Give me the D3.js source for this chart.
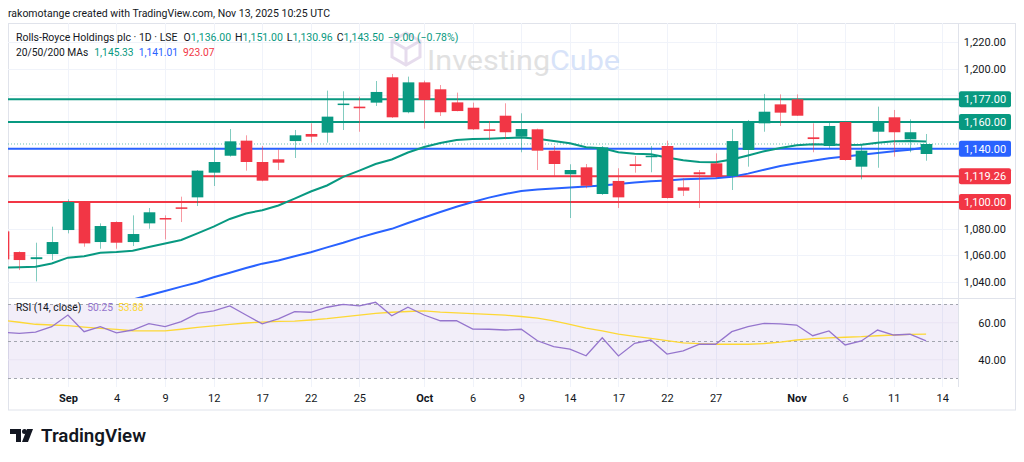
<!DOCTYPE html>
<html><head><meta charset="utf-8">
<script src="https://cdn.jsdelivr.net/npm/d3@7"></script>
<style>
body{margin:0;background:#fff;}
svg{display:block;font-family:Roboto,"Noto Sans",sans-serif;}
</style>
</head><body>
<svg id="c" width="1024" height="462"></svg>
<script>
// ---------- DATA ----------
const dates = ["2025-08-26","2025-08-27","2025-08-28","2025-08-29",
 "2025-09-01","2025-09-02","2025-09-03","2025-09-04","2025-09-05","2025-09-08","2025-09-09","2025-09-10","2025-09-11","2025-09-12",
 "2025-09-15","2025-09-16","2025-09-17","2025-09-18","2025-09-19","2025-09-22","2025-09-23","2025-09-24","2025-09-25","2025-09-26",
 "2025-09-29","2025-09-30","2025-10-01","2025-10-02","2025-10-03","2025-10-06","2025-10-07","2025-10-08","2025-10-09","2025-10-10",
 "2025-10-13","2025-10-14","2025-10-15","2025-10-16","2025-10-17","2025-10-20","2025-10-21","2025-10-22","2025-10-23","2025-10-24",
 "2025-10-27","2025-10-28","2025-10-29","2025-10-30","2025-10-31","2025-11-03","2025-11-04","2025-11-05","2025-11-06","2025-11-07",
 "2025-11-10","2025-11-11","2025-11-12","2025-11-13"];
const opens  = [1078,1062.5,1057.2,1061, 1079,1100,1070,1085,1070,1084,1088,1096,1103.5,1122,
 1134.7,1146,1130,1132,1145.7,1151,1152,1173,1171.5,1174.5, 1193.5,1167.3,1189.7,1184.5,1174.7,1170.7,1154.5,1164.7,1149,1154.5,
 1138.5,1120.8,1126,1106,1115.8,1128.3,1133.7,1142,1111,1122.3, 1129,1119.5,1139,1159,1173.2,1177,1148.5,1142,1160,1126.5,
 1152.7,1163.5,1147,1136];
const highs  = [1080,1063,1069.5,1081.5, 1102,1100.5,1084,1085.5,1090,1095.5,1090,1104,1124,1141,
 1154.7,1150,1142,1139.5,1154,1159,1183.5,1183,1179,1190.7, 1196,1194,1191,1187.7,1182,1174.5,1160.7,1174,1166.5,1155,
 1142,1128.3,1128.5,1142,1125.3,1134.5,1142,1146,1117.8,1124, 1136.5,1154.7,1161.5,1181,1180.7,1180.7,1159,1160.2,1160.3,1142.7,
 1171.5,1169,1162,1151];
const lows   = [1055,1049,1040.5,1056.5, 1076.5,1066.5,1065,1065,1067,1080,1072,1085,1097,1112,
 1134,1123.5,1115.5,1124,1133,1144.5,1144.5,1154,1152.7,1172, 1163,1166.5,1155,1164.5,1168,1154,1146.5,1147,1137.3,1124,
 1119.7,1088,1110.3,1105.3,1095.5,1122,1122.3,1102.5,1104.5,1095.5, 1117.8,1109,1126.5,1152.7,1157,1164.5,1137.3,1140.3,1131,1117,
 1125.7,1134,1137.3,1130.96];
const closes = [1057,1056.5,1058.6,1070, 1100,1069,1082,1069.5,1076,1092.3,1087,1095.5,1123.5,1130,
 1145.5,1130,1116,1129.5,1150,1149,1164,1173.8,1170.3,1182.5, 1163.5,1189.7,1176.5,1167.3,1168.2,1154.5,1153.3,1152.3,1154.7,1138.5,
 1128.5,1124,1112.2,1141,1103.5,1127,1134.7,1103,1108.5,1120.8, 1119,1145.7,1159.8,1167.7,1167,1164.7,1147.2,1157,1131.5,1138.5,
 1160.7,1152.3,1152.3,1143.5];
const ma20 = [1050.9,1051.1,1051.5,1053.9, 1058.3,1059.4,1061.9,1062.5,1063.5,1066.3,1068.9,1071.5,1076.5,1081.6,
 1087.3,1091.4,1093.9,1097.4,1102.6,1107.9,1112.4,1118.8,1123.5,1128.5, 1131.9,1137.1,1141.2,1144.2,1146.5,1147.2,1147.5,1147.9,1148.4,1147.5,
 1145.7,1144,1141.1,1140.3,1137.3,1136.1,1135.8,1133.4,1131.3,1130, 1129.8,1131.9,1134.9,1138.1,1140.5,1142.6,1143.3,1143.1,1142.7,1143,
 1144.5,1145.5,1145.7,1145.33];
const ma50 = [1001.1,1004.4,1007.6,1010.8, 1014,1017.3,1020.5,1023.7,1026.9,1030.1,1033.3,1036.6,1039.7,1043.6,
 1047,1050.5,1053.8,1056.2,1059.3,1062.4,1066,1069.5,1073.3,1076.8, 1079.9,1084.3,1088.4,1092.5,1096.5,1100,1103.3,1106,1108.3,1109.4,
 1110.1,1110.9,1111.6,1112.3,1113.5,1114.6,1115.6,1116.1,1117,1117.4, 1117.9,1118.9,1121.3,1124.2,1127,1129,1131,1132.8,1134.1,1135.5,
 1136.8,1138,1139.1,1141.01];
const rsi = [54.9,54.3,54.9,57.9, 64.2,55.2,57.9,54.6,56.1,59.5,57.9,60.6,65.1,66.5,
 69.1,64.2,59.4,62.1,66,65.7,68.4,70,69.1,71.1, 63.8,68.4,64.2,61.1,61.1,56.6,56.5,56.1,56.5,50.3,
 47.1,45.8,42.2,51.9,42.1,48.9,50.7,43.1,44.8,48.4, 48.4,55.2,57.9,59.7,59.4,58.8,53,55.6,48,50.2,
 56.1,53.4,53.8,50.25];
const rsiMa = [61.4,60.3,59.2,58.8, 58.5,57.7,57,56.4,55.7,55.6,55.6,56.5,57.5,58.3,
 59.2,59.9,60.4,60.8,60.9,61.5,62.2,63.2,64.2,65.1, 65.7,66.1,66.4,65.8,65.4,65,64.6,64.1,63.4,62.5,
 61,59.2,57.1,55.6,53.9,52.7,51.6,50.4,49.2,48.7, 48.4,48.4,48.4,48.8,49.6,50.7,51.4,51.9,52.2,52.5,
 53,53.4,53.7,53.88];
const levelPrices = [1177, 1160, 1140, 1119.26, 1100];
const levelLabels = ["1,177.00","1,160.00","1,140.00","1,119.26","1,100.00"];
const levelColors = ["#089981","#089981","#2962ff","#f23645","#f23645"];
const priceTicks = [1040,1060,1080,1100,1120,1140,1160,1180,1200,1220];
const rsiTicks = [40, 60];
const rsiBands = [70, 50, 30];
const xTickDates = ["2025-09-01","2025-09-04","2025-09-09","2025-09-12","2025-09-17","2025-09-22","2025-09-25",
 "2025-10-01","2025-10-06","2025-10-09","2025-10-14","2025-10-17","2025-10-22","2025-10-27",
 "2025-11-03","2025-11-06","2025-11-11","2025-11-14"];
const xTickLabels = ["Sep","4","9","12","17","22","25","Oct","6","9","14","17","22","27","Nov","6","11","14"];
const monthLabels = ["Sep","Oct","Nov"];
const ohlcKeys = ["O","H","L","C"];
const ohlcVals = ["1,136.00","1,151.00","1,130.96","1,143.50"];
const changeText = "−9.00 (−0.78%)";
const maValues = ["1,145.33","1,141.01","923.07"];
const rsiValues = ["50.25","53.88"];
const lastClose = 1143.5;

// ---------- LAYOUT ----------
const L = 8, R = 958, TOP = 23, MID = 298, BOT = 387;
const svg = d3.select("#c");
const axisDates = dates.concat(["2025-11-14"]);
const idx = d => axisDates.indexOf(d);
const x = d3.scaleLinear().domain([0.30, 58.97]).range([L, R]);
const y = d3.scaleLinear().domain([1028.05, 1234.2]).range([MID, TOP]);
const yr = d3.scaleLinear().domain([25.3, 73.4]).range([BOT, MID]);
const step = x(1) - x(0);

const defs = svg.append("defs");
defs.append("clipPath").attr("id","cm").append("rect").attr("x",L).attr("y",TOP).attr("width",R-L).attr("height",MID-TOP);
defs.append("clipPath").attr("id","cr").append("rect").attr("x",L).attr("y",MID).attr("width",R-L).attr("height",BOT-MID);

// header
svg.append("text").attr("x",8).attr("y",17).attr("font-size",11.5).attr("fill","#131722")
  .attr("textLength",322).attr("lengthAdjust","spacingAndGlyphs")
  .text("rakomotange created with TradingView.com, Nov 13, 2025 10:25 UTC");

// frame
svg.append("rect").attr("x",L+0.5).attr("y",TOP+0.5).attr("width",1016-L-1).attr("height",410-TOP-0.5)
  .attr("fill","none").attr("stroke","#e0e3eb");

// grid
const tickIdx = xTickDates.map(idx);
svg.append("g").selectAll("line").data(tickIdx).join("line")
  .attr("x1",d=>Math.round(x(d))+0.5).attr("x2",d=>Math.round(x(d))+0.5)
  .attr("y1",TOP).attr("y2",BOT).attr("stroke","#f0f3fa");
svg.append("g").selectAll("line").data(priceTicks).join("line")
  .attr("x1",L).attr("x2",R).attr("y1",d=>Math.round(y(d))+0.5).attr("y2",d=>Math.round(y(d))+0.5)
  .attr("stroke","#f0f3fa");

svg.append("line").attr("x1",L).attr("x2",1016).attr("y1",MID+0.5).attr("y2",MID+0.5).attr("stroke","#e0e3eb");
svg.append("line").attr("x1",R+0.5).attr("x2",R+0.5).attr("y1",TOP).attr("y2",BOT).attr("stroke","#e0e3eb");

// watermark
const wm = svg.append("g").attr("opacity",0.45);
wm.append("path").attr("d","M392,41 L406,33 L420,41 L420,57 L406,65 L392,57 Z M392,41 L406,49 L420,41 M406,49 L406,65")
  .attr("fill","none").attr("stroke","#c9b3d9").attr("stroke-width",3);
wm.append("text").attr("x",427).attr("y",70).attr("font-size",28).attr("fill","#bdbdbd")
  .attr("textLength",193).attr("lengthAdjust","spacingAndGlyphs").text("Investing")
  .append("tspan").attr("fill","#a9c3f3").text("Cube");

// main pane
const gm = svg.append("g").attr("clip-path","url(#cm)");
gm.selectAll("line.lv").data(levelPrices).join("line").attr("class","lv")
  .attr("x1",L).attr("x2",R).attr("y1",d=>y(d)).attr("y2",d=>y(d))
  .attr("stroke",(d,i)=>levelColors[i]).attr("stroke-width",2);
gm.append("line").attr("x1",L).attr("x2",R).attr("y1",y(lastClose)).attr("y2",y(lastClose))
  .attr("stroke","#089981").attr("stroke-opacity",0.6).attr("stroke-dasharray","1,2");

const line = d3.line().x((d,i)=>x(i)).y(d=>y(d));
gm.append("path").attr("d",line(ma50)).attr("fill","none").attr("stroke","#2962ff").attr("stroke-width",2);
gm.append("path").attr("d",line(ma20)).attr("fill","none").attr("stroke","#089981").attr("stroke-width",2);

const bw = step*0.72;
const cg = gm.append("g");
dates.forEach((d,i)=>{
  const up = closes[i] >= opens[i];
  const col = up ? "#089981" : "#f23645";
  const cx = Math.round(x(i)) + 0.5;
  cg.append("line").attr("x1",cx).attr("x2",cx).attr("y1",y(highs[i])).attr("y2",y(lows[i]))
    .attr("stroke",col).attr("stroke-opacity",0.5);
  const top = y(Math.max(opens[i],closes[i])), bot = y(Math.min(opens[i],closes[i]));
  cg.append("rect").attr("x",cx-bw/2).attr("y",top).attr("width",bw).attr("height",Math.max(1.5,bot-top))
    .attr("fill",col);
});

// RSI pane
const gr = svg.append("g").attr("clip-path","url(#cr)");
gr.append("rect").attr("x",L).attr("width",R-L).attr("y",yr(70)).attr("height",yr(30)-yr(70))
  .attr("fill","#7e57c2").attr("fill-opacity",0.1);
gr.selectAll("line.rt").data(rsiTicks).join("line").attr("class","rt")
  .attr("x1",L).attr("x2",R).attr("y1",d=>yr(d)).attr("y2",d=>yr(d)).attr("stroke","#e9e4f3");
gr.selectAll("line.bd").data(rsiBands).join("line").attr("class","bd")
  .attr("x1",L).attr("x2",R).attr("y1",d=>Math.round(yr(d))+0.5).attr("y2",d=>Math.round(yr(d))+0.5)
  .attr("stroke","#a3a6af").attr("stroke-dasharray","3,3");
const rl = d3.line().x((d,i)=>x(i)).y(d=>yr(d));
gr.append("path").attr("d",rl(rsiMa)).attr("fill","none").attr("stroke","#fdd835").attr("stroke-width",1.3);
gr.append("path").attr("d",rl(rsi)).attr("fill","none").attr("stroke","#9575cd").attr("stroke-width",1.3);

// x axis
const xa = d3.axisBottom(x).tickValues(tickIdx).tickSize(0).tickFormat((d,i)=>xTickLabels[i]);
const xg = svg.append("g").attr("transform",`translate(0,${BOT})`).call(xa);
xg.select(".domain").remove();
xg.selectAll("text").attr("dy","0").attr("y",15).attr("font-size",11).attr("fill","#131722")
  .attr("font-family","Roboto, sans-serif")
  .attr("font-weight",function(){return monthLabels.includes(this.textContent)?"bold":"normal";});

// right axis (labels hidden where a level tag sits)
const freeTicks = priceTicks.filter(t => levelPrices.every(p => Math.abs(y(t)-y(p)) > 16));
const ya = d3.axisRight(y).tickValues(freeTicks).tickSize(0).tickFormat(d3.format(",.2f"));
const yg = svg.append("g").attr("transform",`translate(1006,0)`).call(ya);
yg.select(".domain").remove();
yg.selectAll("text").attr("x",0).attr("text-anchor","end").attr("font-size",11).attr("fill","#131722")
  .attr("font-family","Roboto, sans-serif");
const ra = d3.axisRight(yr).tickValues(rsiTicks).tickSize(0).tickFormat(d3.format(".2f"));
const rg = svg.append("g").attr("transform",`translate(1006,0)`).call(ra);
rg.select(".domain").remove();
rg.selectAll("text").attr("x",0).attr("text-anchor","end").attr("font-size",11).attr("fill","#131722")
  .attr("font-family","Roboto, sans-serif");

// level tags
const tg = svg.append("g");
levelPrices.forEach((p,i)=>{
  const yy = y(p);
  tg.append("line").attr("x1",R).attr("x2",962).attr("y1",yy).attr("y2",yy).attr("stroke",levelColors[i]).attr("stroke-width",2);
  tg.append("rect").attr("x",959).attr("y",yy-8).attr("width",52).attr("height",16).attr("rx",2).attr("fill",levelColors[i]);
  tg.append("text").attr("x",985).attr("y",yy+4).attr("text-anchor","middle").attr("font-size",11)
    .attr("fill","#fff").text(levelLabels[i]);
});

// legends: laid out piece by piece with measured widths, shrunk to fit the reference span
const lg = svg.append("g");
function row(items, x0, yp, endX, gap){
  let fs = 11.5, nodes;
  for (; fs >= 9; fs -= 0.25){
    lg.selectAll(".tmp").remove();
    let cx = x0; nodes = [];
    items.forEach(it=>{
      const t = lg.append("text").attr("class","tmp").attr("x",cx).attr("y",yp).attr("font-size",fs);
      it.parts.forEach(([s,c])=> t.append("tspan").attr("fill",c).text(s));
      nodes.push(t);
      cx += t.node().getComputedTextLength() + (it.gap ?? gap);
    });
    if (cx - gap <= endX) break;
  }
  lg.selectAll(".tmp").classed("tmp",false);
}
const dark = "#131722", green = "#089981";
const r1 = [{parts:[["Rolls-Royce Holdings plc · 1D · LSE",dark]], gap:6}];
ohlcKeys.forEach((k,i)=> r1.push({parts:[[k,dark],[ohlcVals[i],green]]}));
r1.push({parts:[[changeText,green]]});
row(r1, 16, 41, 460, 4);
row([{parts:[["20/50/200 MAs",dark]], gap:6},{parts:[[maValues[0],green]]},
     {parts:[[maValues[1],"#2962ff"]]},{parts:[[maValues[2],"#f23645"]]}], 16, 56, 215, 5);
row([{parts:[["RSI (14, close)",dark]], gap:6},{parts:[[rsiValues[0],"#9575cd"]]},
     {parts:[[rsiValues[1],"#fdd835"]]}], 16, 311, 146, 5);

// TradingView logo
const tv = svg.append("g").attr("fill","#131722");
tv.append("path").attr("d","M10,429 L21,429 L21,442 L16,442 L16,434 L10,434 Z");
tv.append("circle").attr("cx",24.5).attr("cy",431.5).attr("r",2.5);
tv.append("path").attr("d","M27,429 L33,429 L28,442 L22,442 Z");
svg.append("text").attr("x",41).attr("y",442).attr("font-size",18.5).attr("font-weight",600)
  .attr("fill","#131722").attr("textLength",105).attr("lengthAdjust","spacingAndGlyphs").text("TradingView");
</script>
</body></html>
